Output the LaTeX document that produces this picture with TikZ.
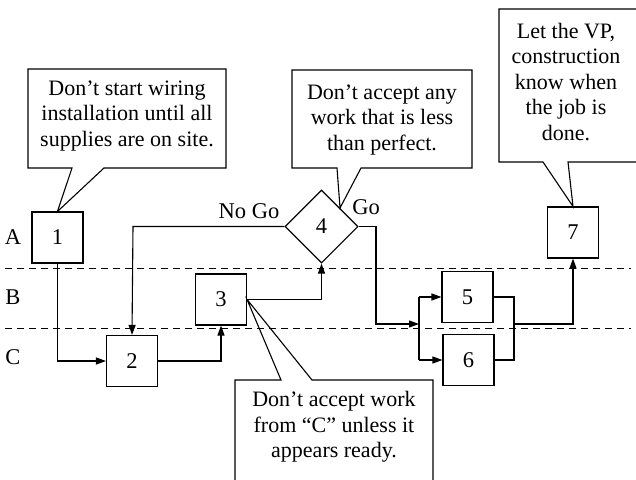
\documentclass[tikz,border=0pt]{standalone}
\usepackage{fontspec}
\setmainfont{Liberation Serif}
\usetikzlibrary{arrows.meta,shapes.geometric,calc}
\begin{document}
\begin{tikzpicture}[x=1pt,y=-1pt,
  line width=1.1pt,
  every node/.style={font=\fontsize{22.5}{25.5}\selectfont},
  stepbox/.style={draw,minimum width=51pt,minimum height=51pt,inner sep=0pt},
  decision/.style={draw,diamond,minimum width=73pt,minimum height=73pt,inner sep=0pt},
  arr/.style={-{Triangle[length=10pt,width=7pt]}},
  lane/.style={dash pattern=on 7pt off 5pt,line width=0.9pt},
  callout/.style={draw,line join=miter},
  note/.style={align=center,font=\fontsize{22}{25.5}\selectfont},
  lanelabel/.style={anchor=center}]
\useasboundingbox (0,0) rectangle (636,479);
\clip (0,0) rectangle (636,479);

% swim lanes
\coordinate (d1a) at (5,268); \coordinate (d1b) at (631,268);
\coordinate (d2a) at (5,328); \coordinate (d2b) at (631,328);
\draw[lane] (d1a) -- (d1b);
\draw[lane] (d2a) -- (d2b);
\node[lanelabel] (la) at (13,237) {A};
\node[lanelabel] (lb) at (13,297) {B};
\node[lanelabel] (lc) at (13,357) {C};

% steps
\node[stepbox] (n1) at (57.5,237.5) {1};
\node[stepbox] (n2) at (132,361) {2};
\node[stepbox] (n3) at (221,299.5) {3};
\node[decision] (n4) at (321.5,226.5) {4};
\node[stepbox] (n5) at (467.5,297) {5};
\node[stepbox] (n6) at (468.5,360) {6};
\node[stepbox] (n7) at (573,232.5) {7};

\node (nogo) at (249,211) {No Go};
\node (go) at (366,207) {Go};

% connectors
\draw[arr] (n1.south) |- (n2.west);
\draw[arr] (n2.east) -| (n3.south);
\draw[arr] (n3.east) -| (n4.south);
\coordinate (ng) at (133,226.5);
\draw[arr] (n4.west) -- (ng) -- (n2.north);
\coordinate (g2) at (376,324);
\coordinate (j1) at (419,324);
\draw[arr] (n4.east) -| (g2) -- (j1);
\draw (j1 |- n5) -- (j1 |- n6);
\draw[arr] (j1 |- n5) -- (n5.west);
\draw[arr] (j1 |- n6) -- (n6.west);
\coordinate (j2) at (514,324);
\draw (n5.east) -| (j2) |- (n6.east);
\draw[arr] (j2) -| (n7.south);

% callouts
\draw[callout] (72,168) -- (28,168) -- (28,69) -- (226,69) -- (226,168) -- (104,168) -- (n1.north) -- cycle;
\node[note] (c1) at (127,116) {Don’t start wiring\\installation until all\\supplies are on site.};

\coordinate (t4) at ($(n4.north)!0.5!(n4.east)$);
\draw[callout] (337,168) -- (292,168) -- (292,70) -- (472,70) -- (472,168) -- (361,168) -- (t4) -- cycle;
\node[note] (c4) at (382,120) {Don’t accept any\\work that is less\\than perfect.};

\draw[callout] (543,162) -- (499,162) -- (499,9) -- (650,9) -- (650,162) -- (568,162) -- (n7.north) -- cycle;
\node[note] (c7) at (566,82) {Let the VP,\\construction\\know when\\the job is\\done.};

\draw[callout] (281,380) -- (235,380) -- (235,495) -- (433,495) -- (433,380) -- (312,380) -- (n3.east) -- cycle;
\node[note] (c3) at (334,427) {Don’t accept work\\from “C” unless it\\appears ready.};
\end{tikzpicture}
\end{document}
